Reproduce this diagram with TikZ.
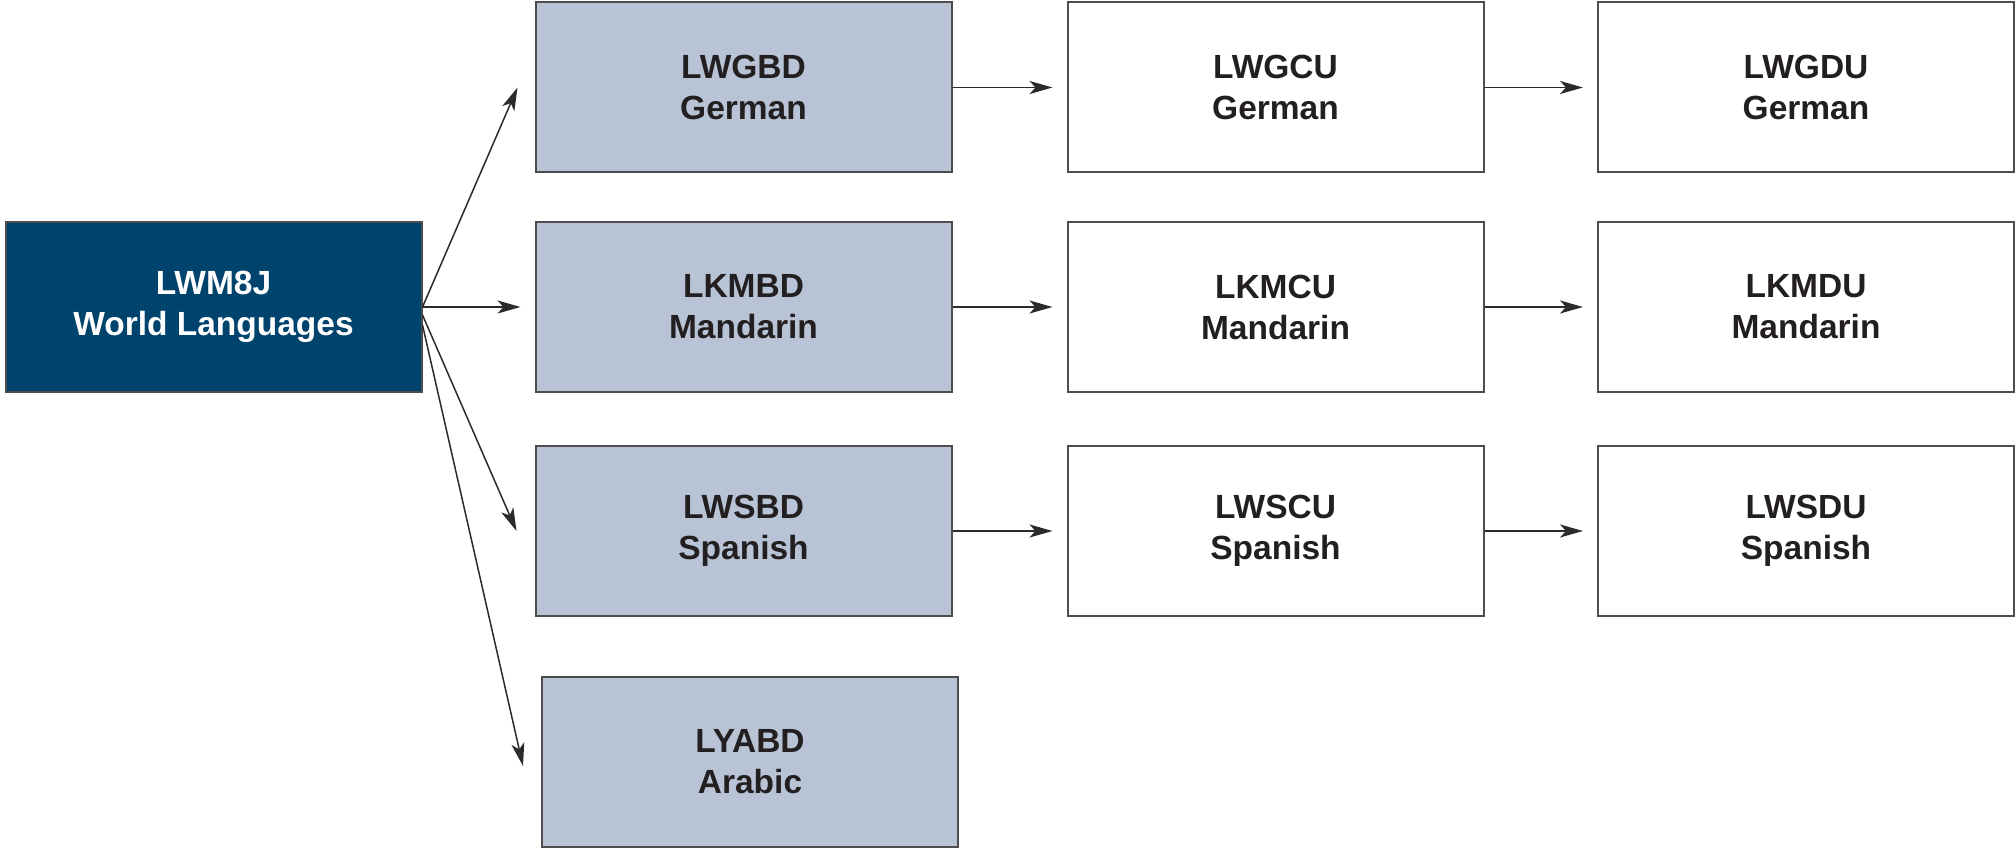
\documentclass[tikz,border=0pt]{standalone}
\usepackage{fontspec}
\setmainfont{Liberation Sans}
\usetikzlibrary{arrows.meta,calc}
\definecolor{darkblue}{HTML}{00446E}
\definecolor{lightblue}{HTML}{B8C4D6}
\definecolor{bordergray}{HTML}{4D4D4D}
\definecolor{textblack}{HTML}{231F20}
\definecolor{linegray}{HTML}{2B2B2B}
\tikzset{
  course/.style={draw=bordergray, line width=1pt, minimum width=208pt, minimum height=85pt,
    inner sep=0pt, align=center, font=\fontsize{16.75pt}{20.5pt}\selectfont\bfseries, text=textblack},
  rootbox/.style={course, fill=darkblue, text=white},
  basebox/.style={course, fill=lightblue},
  nextbox/.style={course, fill=white},
  link/.style={draw=linegray, line width=0.75pt, -{Stealth[length=11.5pt,width=6.5pt,inset=3pt]}}
}
\begin{document}
\begin{tikzpicture}[x=0.5pt,y=-0.5pt]
\useasboundingbox (0,0) rectangle (2016,849);
\node[rootbox] (M) at (213.5,307) {LWM8J\\World Languages};
\node[basebox] (GB) at (743.5,87.5) {LWGBD\\German};
\node[nextbox] (GC) at (1275.5,87.5) {LWGCU\\German};
\node[nextbox] (GD) at (1806,87.5) {LWGDU\\German};
\node[basebox] (MB) at (743.5,307) {LKMBD\\Mandarin};
\node[nextbox] (MC) at (1275.5,307) {LKMCU\\Mandarin};
\node[nextbox] (MD) at (1806,307) {LKMDU\\Mandarin};
\node[basebox] (SB) at (743.5,531) {LWSBD\\Spanish};
\node[nextbox] (SC) at (1275.5,531) {LWSCU\\Spanish};
\node[nextbox] (SD) at (1806,531) {LWSDU\\Spanish};
\node[basebox] (AB) at (750,761.5) {LYABD\\Arabic};
% arrows from root
\draw[link] (M.east) -- ($(GB.west)+(-17,0)$);
\draw[link] (M.east) -- ($(MB.west)+(-14,0)$);
\draw[link] ($(M.east)+(0,8)$) -- ($(SB.west)+(-18,0)$);
\draw[link] ($(M.east)+(0,18)$) -- ($(AB.west)+(-18,4.5)$);
% row arrows
\draw[link] (GB.east) -- ($(GC.west)+(-14,0)$);
\draw[link] (GC.east) -- ($(GD.west)+(-14,0)$);
\draw[link] (MB.east) -- ($(MC.west)+(-14,0)$);
\draw[link] (MC.east) -- ($(MD.west)+(-14,0)$);
\draw[link] (SB.east) -- ($(SC.west)+(-14,0)$);
\draw[link] (SC.east) -- ($(SD.west)+(-14,0)$);
\end{tikzpicture}
\end{document}
